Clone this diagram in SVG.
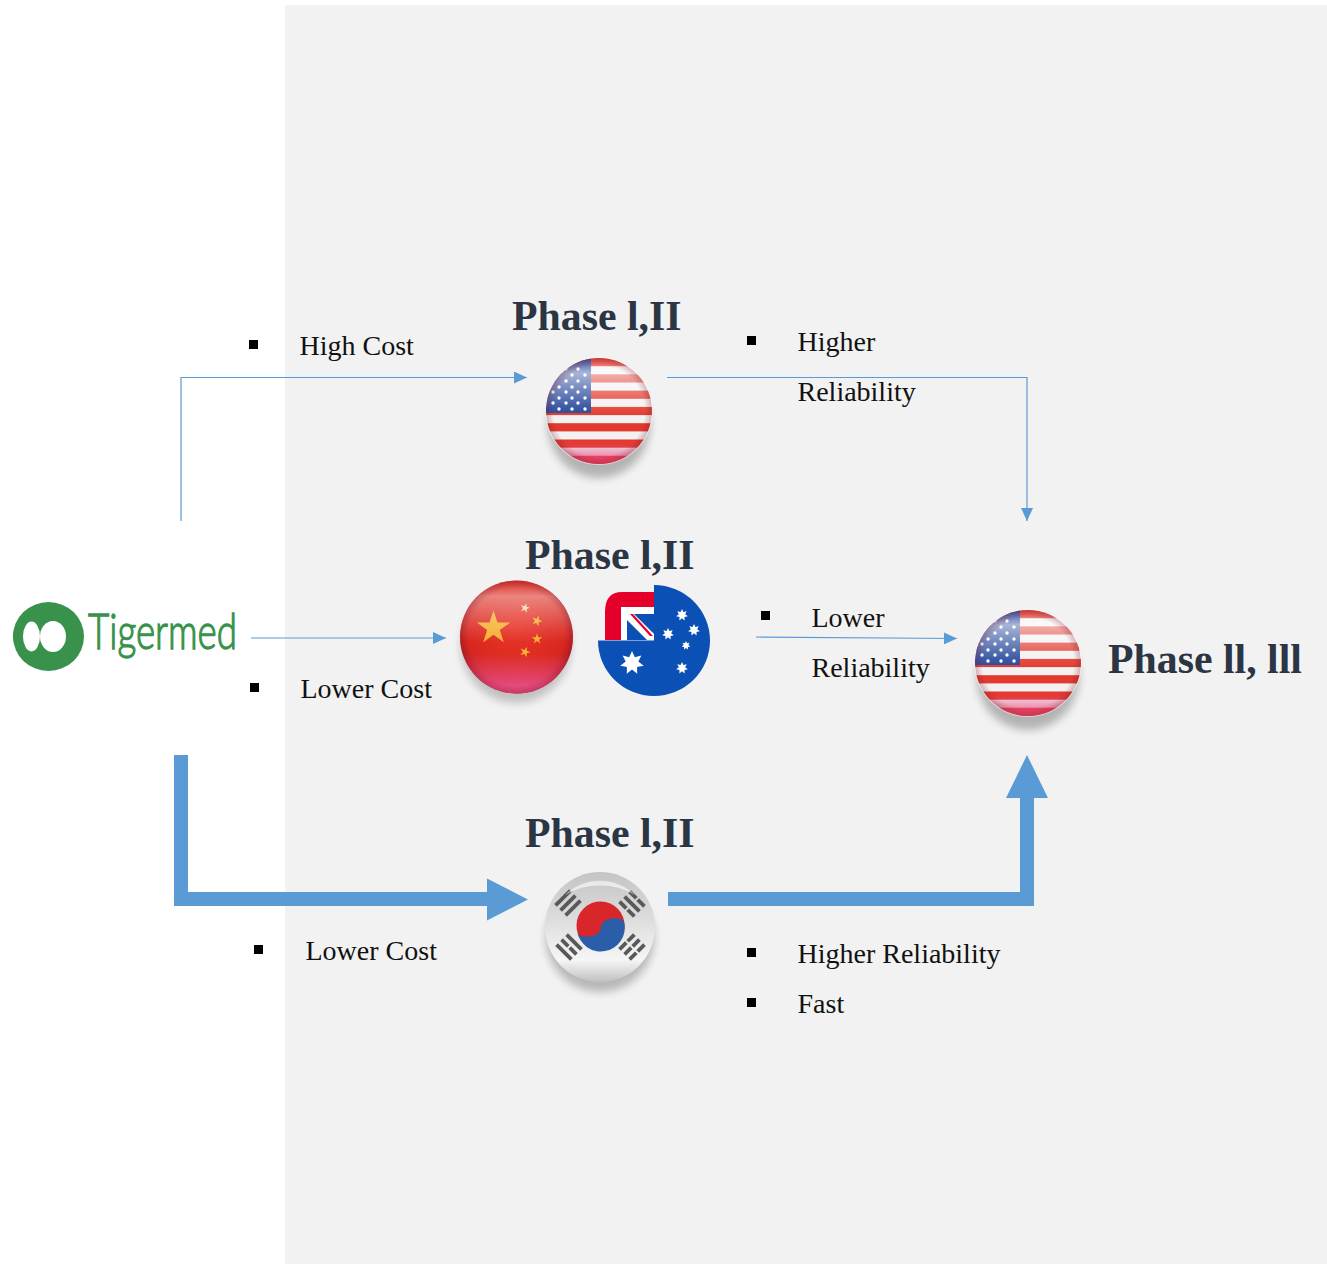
<svg xmlns="http://www.w3.org/2000/svg" xmlns:xlink="http://www.w3.org/1999/xlink" width="1327" height="1264" viewBox="0 0 1327 1264">
<style>
.lbl{font-family:"Liberation Serif","Times New Roman",serif;font-size:28px;fill:#111}
.ttl{font-family:"Liberation Serif","Times New Roman",serif;font-size:41.800px;font-weight:bold;fill:#2b3544}
.thin{fill:none;stroke:#5b9bd5;stroke-width:1.2}
.thick{fill:none;stroke:#5b9bd5;stroke-width:14}
.head{fill:#5b9bd5}
.bul{fill:#000}
</style>
<defs>
<filter id="blur" x="-30%" y="-30%" width="160%" height="160%"><feGaussianBlur stdDeviation="4"/></filter>
<filter id="soft" x="-10%" y="-10%" width="120%" height="120%"><feGaussianBlur stdDeviation="0.5"/></filter>
<clipPath id="disc"><circle r="53"/></clipPath>
<marker id="tip" markerWidth="14" markerHeight="12" refX="13" refY="6" orient="auto" markerUnits="userSpaceOnUse"><path d="M0,0L13,6L0,12Z" class="head"/></marker>
<linearGradient id="gloss" x1="0" y1="0" x2="0" y2="1">
<stop offset="0" stop-color="#fff" stop-opacity=".05"/><stop offset=".14" stop-color="#fff" stop-opacity=".6"/><stop offset=".45" stop-color="#fff" stop-opacity=".12"/><stop offset=".55" stop-color="#fff" stop-opacity="0"/>
</linearGradient>
<radialGradient id="edge" cx=".5" cy=".5" r=".5"><stop offset=".86" stop-color="#7a1020" stop-opacity="0"/><stop offset="1" stop-color="#7a1020" stop-opacity=".28"/></radialGradient>
<linearGradient id="bottomPink" x1="0" y1="0" x2="0" y2="1"><stop offset=".78" stop-color="#e8487c" stop-opacity="0"/><stop offset=".95" stop-color="#e8487c" stop-opacity=".7"/></linearGradient>
<linearGradient id="cnPink" x1="0" y1="0" x2="0" y2="1"><stop offset=".65" stop-color="#e84f86" stop-opacity="0"/><stop offset=".93" stop-color="#e84f86" stop-opacity=".9"/></linearGradient>
<radialGradient id="cnRed" cx=".5" cy=".42" r=".6"><stop offset="0" stop-color="#e8352a"/><stop offset=".7" stop-color="#d9281f"/><stop offset="1" stop-color="#b81c22"/></radialGradient>
<linearGradient id="krBase" x1="0" y1="0" x2="0" y2="1"><stop offset="0" stop-color="#c4c4c4"/><stop offset=".45" stop-color="#dedede"/><stop offset=".8" stop-color="#f6f6f6"/><stop offset="1" stop-color="#c0c0c0"/></linearGradient>
<polygon id="s7" points="0,-1 .234,-.486 .782,-.623 .527,-.12 .975,.223 .422,.337 .434,.901 0,.54 -.434,.901 -.422,.337 -.975,.223 -.527,-.12 -.782,-.623 -.234,-.486" fill="#fff"/>
<polygon id="s5" points="0,-1 .225,-.309 .951,-.309 .363,.118 .588,.809 0,.382 -.588,.809 -.363,.118 -.951,-.309 -.225,-.309"/>
<g id="usFlag">
<ellipse cx="0" cy="14" rx="51" ry="53" fill="#000" opacity=".26" filter="url(#blur)"/>
<circle r="54" fill="#f7f7f7" opacity=".5"/>
<g clip-path="url(#disc)">
<rect x="-53" y="-53" width="106" height="106" fill="#f3f1f1"/>
<g fill="#e23a2e">
<rect x="-53" y="-53" width="106" height="8.2"/><rect x="-53" y="-36.7" width="106" height="8.2"/><rect x="-53" y="-20.4" width="106" height="8.2"/><rect x="-53" y="-4.1" width="106" height="8.2"/><rect x="-53" y="12.2" width="106" height="8.2"/><rect x="-53" y="28.5" width="106" height="8.2"/><rect x="-53" y="44.8" width="106" height="8.2"/>
</g>
<rect x="-53" y="-53" width="45" height="55" fill="#26479a"/>
<g fill="#fff" filter="url(#soft)">
<circle cx="-33" cy="-42" r="1.7"/><circle cx="-21" cy="-42" r="1.7"/>
<circle cx="-27" cy="-36" r="1.7"/><circle cx="-14" cy="-36" r="1.7"/>
<circle cx="-33" cy="-30" r="1.7"/><circle cx="-21" cy="-30" r="1.7"/>
<circle cx="-40" cy="-24" r="1.7"/><circle cx="-27" cy="-24" r="1.7"/><circle cx="-14" cy="-24" r="1.7"/>
<circle cx="-46" cy="-19" r="1.7"/><circle cx="-33" cy="-19" r="1.7"/><circle cx="-21" cy="-19" r="1.7"/>
<circle cx="-40" cy="-13" r="1.7"/><circle cx="-27" cy="-13" r="1.7"/><circle cx="-14" cy="-13" r="1.7"/>
<circle cx="-46" cy="-8" r="1.7"/><circle cx="-33" cy="-8" r="1.7"/><circle cx="-21" cy="-8" r="1.7"/>
<circle cx="-40" cy="-2" r="1.7"/><circle cx="-27" cy="-2" r="1.7"/><circle cx="-14" cy="-2" r="1.7"/>
</g>
<rect x="-53" y="-53" width="106" height="106" fill="url(#gloss)"/>
<rect x="-53" y="-53" width="106" height="106" fill="url(#bottomPink)"/>
<circle r="53" fill="url(#edge)"/>
</g>
</g>
</defs>

<rect id="panel" x="285" y="5" width="1042" height="1259" fill="#f2f2f2"/>

<g id="connectors">
<path class="thin" d="M181,521V377.500H527" marker-end="url(#tip)"/>
<path class="thin" d="M667,377.500H1027V521" marker-end="url(#tip)"/>
<path class="thin" d="M251,638H446" marker-end="url(#tip)"/>
<path class="thin" d="M756,637L957,638.500" marker-end="url(#tip)"/>
<path class="thick" d="M181,755V899H488"/>
<polygon class="head" points="487,878.500 528,899.500 487,920.500"/>
<path class="thick" d="M668,899H1027V797"/>
<polygon class="head" points="1006,798 1027,755 1048,798"/>
</g>

<g id="tigermed">
<ellipse cx="48.500" cy="636.500" rx="35.500" ry="34.500" fill="#38924b"/>
<circle cx="28" cy="636.500" r="15" fill="#38924b"/>
<ellipse cx="53" cy="636.500" rx="13" ry="15.500" fill="#fff"/>
<ellipse cx="31.500" cy="636.500" rx="8.500" ry="15" fill="#fff"/>
<text x="88" y="649" font-family="Lato,'Noto Sans',sans-serif" font-weight="300" font-size="49" fill="#38924b" stroke="#38924b" stroke-width="1.300" textLength="149" lengthAdjust="spacingAndGlyphs">Tigermed</text>
</g>

<g id="us-phase1">
<use xlink:href="#usFlag" href="#usFlag" transform="translate(599,411)"/>
<text class="ttl" x="512" y="330">Phase l,II</text>
</g>

<g id="china">
<ellipse cx="516" cy="646" rx="55" ry="57" fill="#000" opacity=".2" filter="url(#blur)"/>
<circle cx="516.500" cy="637" r="56.500" fill="url(#cnRed)"/>
<circle cx="516.500" cy="637" r="56.500" fill="url(#cnPink)"/>
<g fill="#f6b133">
<use xlink:href="#s5" href="#s5" transform="translate(493.500,628) scale(17.500)"/>
<use xlink:href="#s5" href="#s5" transform="translate(537,621) rotate(20) scale(5.500)"/>
<use xlink:href="#s5" href="#s5" transform="translate(537,639) scale(5.500)"/>
<use xlink:href="#s5" href="#s5" transform="translate(525,652) rotate(20) scale(5.500)"/>
<use xlink:href="#s5" href="#s5" transform="translate(525,608) rotate(15) scale(5)" fill="#f4d9a8"/>
</g>
<circle cx="516.500" cy="637" r="56.500" fill="url(#gloss)" opacity=".7"/>
<circle cx="516.500" cy="637" r="56.500" fill="url(#edge)"/>
</g>

<g id="australia">
<path d="M654,585A56,55.500 0 1 1 598,640.500H654Z" fill="#0b50b4"/>
<path d="M654,592H622Q605,592 605,612V640H654Z" fill="#e4002b"/>
<path d="M621,607H654V640H621Z" fill="#fff"/>
<polygon points="628,614 654,614 654,634" fill="#0b50b4"/>
<polygon points="627,620 647,640 627,640" fill="#0b50b4"/>
<polygon points="628,614 634,614 654,634 654,640 650,640" fill="#fff"/>
<polygon points="630,614 633,614 653,636 650,636" fill="#e4002b"/>
<use xlink:href="#s7" href="#s7" transform="translate(632,663) scale(12)"/>
<use xlink:href="#s7" href="#s7" transform="translate(682,615) scale(6)"/>
<use xlink:href="#s7" href="#s7" transform="translate(668,634) scale(6)"/>
<use xlink:href="#s7" href="#s7" transform="translate(694,630) scale(6)"/>
<use xlink:href="#s7" href="#s7" transform="translate(686,645.500) scale(4.500)"/>
<use xlink:href="#s7" href="#s7" transform="translate(682,668) scale(6)"/>
<text class="ttl" x="525" y="569">Phase l,II</text>
</g>

<g id="korea">
<ellipse cx="600" cy="938" rx="54" ry="54" fill="#000" opacity=".24" filter="url(#blur)"/>
<circle cx="600" cy="927" r="55" fill="url(#krBase)"/>
<g fill="#58595b">
<g transform="translate(568,903) rotate(-45)"><rect x="-10.500" y="-9" width="21" height="3.800"/><rect x="-10.500" y="-1.900" width="21" height="3.800"/><rect x="-10.500" y="5.200" width="21" height="3.800"/></g>
<g transform="translate(632,904) rotate(45)"><rect x="-10.500" y="-9" width="9.500" height="3.800"/><rect x="1" y="-9" width="9.500" height="3.800"/><rect x="-10.500" y="-1.900" width="21" height="3.800"/><rect x="-10.500" y="5.200" width="9.500" height="3.800"/><rect x="1" y="5.200" width="9.500" height="3.800"/></g>
<g transform="translate(569,947) rotate(45)"><rect x="-10.500" y="-9" width="21" height="3.800"/><rect x="-10.500" y="-1.900" width="9.500" height="3.800"/><rect x="1" y="-1.900" width="9.500" height="3.800"/><rect x="-10.500" y="5.200" width="21" height="3.800"/></g>
<g transform="translate(632,947) rotate(-45)"><rect x="-10.500" y="-9" width="9.500" height="3.800"/><rect x="1" y="-9" width="9.500" height="3.800"/><rect x="-10.500" y="-1.900" width="9.500" height="3.800"/><rect x="1" y="-1.900" width="9.500" height="3.800"/><rect x="-10.500" y="5.200" width="9.500" height="3.800"/><rect x="1" y="5.200" width="9.500" height="3.800"/></g>
</g>
<g transform="translate(600.500,925.500) rotate(-10)">
<circle r="24" fill="#d8262a"/>
<path d="M-24,2A12,7 0 0 0 0,2A12,7 0 0 1 24,2A24,24 0 0 1 -24,2Z" fill="#2a5ea8"/>
</g>
<path d="M565,895A50,50 0 0 1 635,895A70,70 0 0 0 565,895Z" fill="#fff" opacity=".6"/>
<text class="ttl" x="525" y="847">Phase l,II</text>
</g>

<g id="us-phase2">
<use xlink:href="#usFlag" href="#usFlag" transform="translate(1028,663)"/>
<text class="ttl" x="1108" y="673">Phase ll, lll</text>
</g>

<g id="labels">
<rect class="bul" x="249" y="340" width="9" height="9"/>
<text class="lbl" x="299.500" y="355">High Cost</text>
<rect class="bul" x="747" y="336" width="9" height="9"/>
<text class="lbl" x="797.500" y="350.500">Higher</text>
<text class="lbl" x="797.500" y="401">Reliability</text>
<rect class="bul" x="250" y="683" width="9" height="9"/>
<text class="lbl" x="300.500" y="698">Lower Cost</text>
<rect class="bul" x="761" y="611" width="9" height="9"/>
<text class="lbl" x="811.500" y="626.500">Lower</text>
<text class="lbl" x="811.500" y="677">Reliability</text>
<rect class="bul" x="254" y="945" width="9" height="9"/>
<text class="lbl" x="305.500" y="960">Lower Cost</text>
<rect class="bul" x="747" y="948" width="9" height="9"/>
<text class="lbl" x="797.500" y="963">Higher Reliability</text>
<rect class="bul" x="747" y="998" width="9" height="9"/>
<text class="lbl" x="797.500" y="1013">Fast</text>
</g>
</svg>
